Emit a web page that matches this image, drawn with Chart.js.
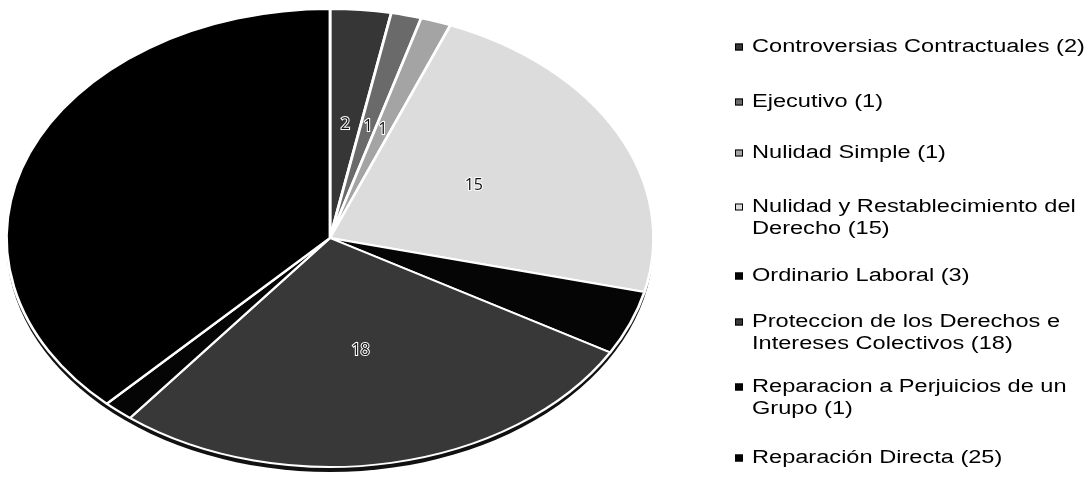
<!DOCTYPE html>
<html>
<head>
<meta charset="utf-8">
<script src="https://cdn.jsdelivr.net/npm/chart.js@4.4.1/dist/chart.umd.min.js"></script>
<style>
  html, body { margin: 0; padding: 0; background: #fff; }
  #wrap { width: 1091px; height: 479px; }
</style>
</head>
<body>
<div id="wrap"><canvas id="chart" width="1091" height="479"></canvas></div>
<script>
const categories = [
  'Controversias Contractuales',
  'Ejecutivo',
  'Nulidad Simple',
  'Nulidad y Restablecimiento del Derecho',
  'Ordinario Laboral',
  'Proteccion de los Derechos e Intereses Colectivos',
  'Reparacion a Perjuicios de un Grupo',
  'Reparación Directa'
]
const counts = [2, 1, 1, 15, 3, 18, 1, 25]

const sliceColors = ['#363636', '#6a6a6a', '#a4a4a4', '#dcdcdc', '#050505', '#383838', '#050505', '#000000']

// the scanned pie is an ellipse, so the arcs are stretched sideways
const PIE_STRETCH = 1.413
const TEXT_STRETCH = 1.31

const ellipsePie = {
  id: 'ellipsePie',
  beforeDraw(chart) {
    const { ctx } = chart
    ctx.save()
    ctx.fillStyle = '#fff'
    ctx.fillRect(0, 0, chart.width, chart.height)
    ctx.restore()
  },
  beforeDatasetsDraw(chart) {
    const { ctx } = chart
    const arc = chart.getDatasetMeta(0).data[0]
    ctx.save()
    ctx.translate(arc.x, 0)
    ctx.scale(PIE_STRETCH, 1)
    ctx.translate(-arc.x, 0)
    // dark rim under the pie (the 3d edge)
    ctx.beginPath()
    ctx.arc(arc.x, arc.y + 5, arc.outerRadius, 0, Math.PI * 2)
    ctx.fillStyle = '#111'
    ctx.fill()
  },
  afterDatasetsDraw(chart) {
    chart.ctx.restore()
  }
}

function luminance(hex) {
  const v = parseInt(hex.replace('#', ''), 16)
  return (((v >> 16) & 255) + ((v >> 8) & 255) + (v & 255)) / 765
}

const valueLabels = {
  id: 'valueLabels',
  afterDatasetsDraw(chart) {
    const { ctx } = chart
    const meta = chart.getDatasetMeta(0)
    const cx = meta.data[0].x
    ctx.save()
    ctx.font = '16px "Open Sans"'
    ctx.textAlign = 'center'
    ctx.textBaseline = 'middle'
    meta.data.forEach((arc, i) => {
      if (luminance(sliceColors[i]) < 0.1) return // black on black, not visible
      const p = arc.getCenterPoint()
      const x = cx + (p.x - cx) * PIE_STRETCH
      const text = String(counts[i])
      ctx.lineWidth = 2
      ctx.strokeStyle = '#fff'
      ctx.strokeText(text, x, p.y)
      ctx.fillStyle = '#111'
      ctx.fillText(text, x, p.y)
    })
    ctx.restore()
  }
}

function wrapText(ctx, text, maxWidth) {
  const words = text.split(' ')
  const lines = []
  let line = ''
  words.forEach((w) => {
    const test = line ? line + ' ' + w : w
    if (ctx.measureText(test).width > maxWidth && line) {
      lines.push(line)
      line = w
    } else {
      line = test
    }
  })
  lines.push(line)
  return lines
}

const sideLegend = {
  id: 'sideLegend',
  afterDraw(chart, args, opts) {
    const { ctx } = chart
    ctx.save()
    ctx.font = '18px "Liberation Sans"'
    ctx.textBaseline = 'middle'
    categories.forEach((name, i) => {
      const yc = opts.rows[i]
      ctx.fillStyle = sliceColors[i]
      ctx.fillRect(opts.markerX, yc - 3.5, 8, 7)
      ctx.strokeStyle = '#000'
      ctx.lineWidth = 1
      ctx.strokeRect(opts.markerX + 0.5, yc - 3, 7, 6)
      const lines = wrapText(ctx, `${name} (${counts[i]})`, opts.maxWidth / TEXT_STRETCH)
      ctx.fillStyle = '#000'
      lines.forEach((ln, k) => {
        ctx.save()
        ctx.translate(opts.textX, yc + k * opts.lineHeight)
        ctx.scale(TEXT_STRETCH, 1)
        ctx.fillText(ln, 0, 0)
        ctx.restore()
      })
    })
    ctx.restore()
  }
}

new Chart(document.getElementById('chart'), {
  type: 'pie',
  data: {
    labels: categories,
    datasets: [{
      data: counts,
      backgroundColor: sliceColors,
      borderColor: '#fff',
      borderWidth: 2
    }]
  },
  options: {
    responsive: false,
    animation: false,
    events: [],
    layout: { padding: { left: 100, right: 531, top: 8, bottom: 11 } },
    plugins: {
      legend: { display: false },
      tooltip: { enabled: false },
      sideLegend: {
        markerX: 735,
        textX: 752,
        maxWidth: 342,
        lineHeight: 22,
        rows: [47, 102, 153, 207, 276, 322, 387, 458]
      }
    }
  },
  plugins: [ellipsePie, valueLabels, sideLegend]
})
</script>
</body>
</html>
